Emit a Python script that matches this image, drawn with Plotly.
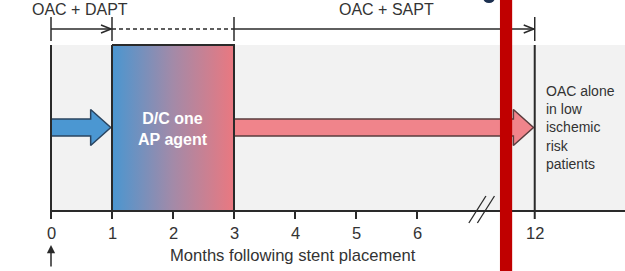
import plotly.graph_objects as go

# ---------------- data ----------------
tick_months = [0, 1, 2, 3, 4, 5, 6, 12]
tick_pos = [0, 1, 2, 3, 4, 5, 6, 7.93]          # axis position (axis is broken between 6 and 12)
tick_labels = ["0", "1", "2", "3", "4", "5", "6", "12"]

phase_names = ["OAC + DAPT", "OAC + SAPT"]
dapt_start, dapt_end = 0, 1        # full DAPT
dc_start, dc_end = 1, 3            # discontinue one antiplatelet agent window
sapt_start, sapt_end = 3, 12       # OAC + SAPT
box_label = "D/C one<br>AP agent"
end_label = "OAC alone<br>in low<br>ischemic<br>risk<br>patients"
axis_title = "Months following stent placement"
highlight = [7.36, 7.56]           # red overlay marker (axis positions)


def pos(m):
    return tick_pos[tick_months.index(m)]


# ---------------- style / layout constants ----------------
W, H = 625, 271
PX0, PXM = 51, 61                  # pixel of month 0, pixels per month
XR = [-PX0 / PXM, (W - PX0) / PXM]
TXT = "#333333"
LINE = "#2a2a2a"
FONT = "Liberation Sans, Arial, sans-serif"
GRAY_TOP, GRAY_BOT = 45, 211
BR_Y, BR_T, BR_B = 29, 17, 41
ARROW_Y, BODY_H, HEAD_H = 127.5, 8.5, 18
HEAD_L = 0.33
TIP_GAP = 0.02
px = 1 / PXM

fig = go.Figure()
shapes = []
annotations = []

# gray background band
shapes.append(dict(type="rect", xref="x", yref="y", x0=pos(0), x1=XR[1], y0=GRAY_TOP, y1=GRAY_BOT,
                   fillcolor="#f2f2f2", line=dict(width=0), layer="below"))


def arrow(x_start, x_end, fill, outline):
    tip = x_end - TIP_GAP
    base = tip - HEAD_L
    xs = [x_start, base, base, tip, base, base, x_start, x_start]
    ys = [ARROW_Y - BODY_H, ARROW_Y - BODY_H, ARROW_Y - HEAD_H, ARROW_Y,
          ARROW_Y + HEAD_H, ARROW_Y + BODY_H, ARROW_Y + BODY_H, ARROW_Y - BODY_H]
    fig.add_trace(go.Scatter(x=xs, y=ys, mode="lines", fill="toself", fillcolor=fill,
                             line=dict(color=outline, width=1.5), hoverinfo="skip", showlegend=False))


arrow(pos(dapt_start), pos(dapt_end), "#4b97d2", "#2b4560")
arrow(pos(sapt_start), pos(sapt_end), "#f0848b", "#5a3c3e")

# gradient box
fig.add_trace(go.Scatter(
    x=[pos(dc_start), pos(dc_end), pos(dc_end), pos(dc_start), pos(dc_start)],
    y=[GRAY_TOP, GRAY_TOP, GRAY_BOT, GRAY_BOT, GRAY_TOP],
    mode="lines", fill="toself",
    fillgradient=dict(type="horizontal",
                      colorscale=[[0, "#4a96d0"], [0.5, "#a38aa8"], [1, "#ea7880"]]),
    line=dict(color=LINE, width=2), hoverinfo="skip", showlegend=False))

# vertical lines at 0 and 12
for m in [dapt_start, sapt_end]:
    shapes.append(dict(type="line", xref="x", yref="y", x0=pos(m), x1=pos(m), y0=GRAY_TOP, y1=GRAY_BOT,
                       line=dict(color=LINE, width=2)))

# axis line, ticks, labels
shapes.append(dict(type="line", xref="x", yref="y", x0=pos(0), x1=XR[1], y0=GRAY_BOT, y1=GRAY_BOT,
                   line=dict(color=LINE, width=2)))
for p, lab in zip(tick_pos, tick_labels):
    shapes.append(dict(type="line", xref="x", yref="y", x0=p, x1=p, y0=GRAY_BOT, y1=GRAY_BOT + 8,
                       line=dict(color=LINE, width=2)))
    annotations.append(dict(x=p, y=233, xref="x", yref="y", text=lab, showarrow=False,
                            font=dict(size=16.5, color=TXT, family=FONT), xanchor="center", yanchor="middle"))

# axis break marks
bc = 7.06
for off in [-0.07, 0.07]:
    shapes.append(dict(type="line", xref="x", yref="y", x0=bc + off - 0.14, x1=bc + off + 0.14,
                       y0=223, y1=196, line=dict(color=LINE, width=1.3)))

# top bracket
for m in [dapt_start, dapt_end, sapt_start, sapt_end]:
    shapes.append(dict(type="line", xref="x", yref="y", x0=pos(m), x1=pos(m), y0=BR_T, y1=BR_B,
                       line=dict(color=LINE, width=1.5)))
shapes.append(dict(type="line", xref="x", yref="y", x0=pos(dapt_start), x1=pos(dapt_end), y0=BR_Y, y1=BR_Y,
                   line=dict(color=LINE, width=1.5)))
shapes.append(dict(type="line", xref="x", yref="y", x0=pos(dc_start), x1=pos(dc_end), y0=BR_Y, y1=BR_Y,
                   line=dict(color=LINE, width=1.5, dash="4px,3px")))
shapes.append(dict(type="line", xref="x", yref="y", x0=pos(sapt_start), x1=pos(sapt_end), y0=BR_Y, y1=BR_Y,
                   line=dict(color=LINE, width=1.5)))
for m in [dapt_end, sapt_end]:
    t = pos(m) - 1 * px
    fig.add_trace(go.Scatter(x=[t - 10 * px, t, t - 10 * px], y=[BR_Y - 4, BR_Y, BR_Y + 4], mode="lines",
                             line=dict(color=LINE, width=1.5), hoverinfo="skip", showlegend=False))

annotations.append(dict(x=(pos(dapt_start) + pos(dapt_end)) / 2 - 0.02, y=9, xref="x", yref="y",
                        text=phase_names[0], showarrow=False, font=dict(size=16, color=TXT, family=FONT)))
annotations.append(dict(x=(pos(sapt_start) + pos(sapt_end)) / 2 + 0.03, y=9, xref="x", yref="y",
                        text=phase_names[1], showarrow=False, font=dict(size=16, color=TXT, family=FONT)))

# box label
annotations.append(dict(x=(pos(dc_start) + pos(dc_end)) / 2, y=129, xref="x", yref="y", text="<b>" + box_label + "</b>",
                        showarrow=False, font=dict(size=16, color="white", family=FONT)))
# end label
annotations.append(dict(x=pos(sapt_end) + 0.16, y=127, xref="x", yref="y", text=end_label, showarrow=False,
                        xanchor="left", align="left", font=dict(size=14, color=TXT, family=FONT)))
# axis title
annotations.append(dict(x=3.97, y=255, xref="x", yref="y", text=axis_title, showarrow=False,
                        font=dict(size=16.6, color=TXT, family=FONT)))
# up arrow under 0
annotations.append(dict(x=pos(0), y=245, ax=pos(0), ay=268, xref="x", yref="y", axref="x", ayref="y",
                        text="", showarrow=True, arrowhead=2, arrowsize=1.1, arrowwidth=1.5, arrowcolor=LINE))

# overlay marks
shapes.append(dict(type="circle", xref="x", yref="y", x0=(483 - PX0) / PXM, x1=(495 - PX0) / PXM, y0=-8, y1=3,
                   fillcolor="#1c3050", line=dict(width=0)))
shapes.append(dict(type="rect", xref="x", yref="y", x0=highlight[0], x1=highlight[1], y0=0, y1=H,
                   fillcolor="#c00000", line=dict(width=0)))

fig.update_layout(
    width=W, height=H, margin=dict(l=0, r=0, t=0, b=0),
    paper_bgcolor="white", plot_bgcolor="white",
    xaxis=dict(range=XR, visible=False, fixedrange=True),
    yaxis=dict(range=[H, 0], visible=False, fixedrange=True),
    shapes=shapes, annotations=annotations, showlegend=False,
)
fig.write_html("out.html", config={"displayModeBar": False},
               post_script="document.body.style.margin='0';document.body.style.overflow='hidden';")
